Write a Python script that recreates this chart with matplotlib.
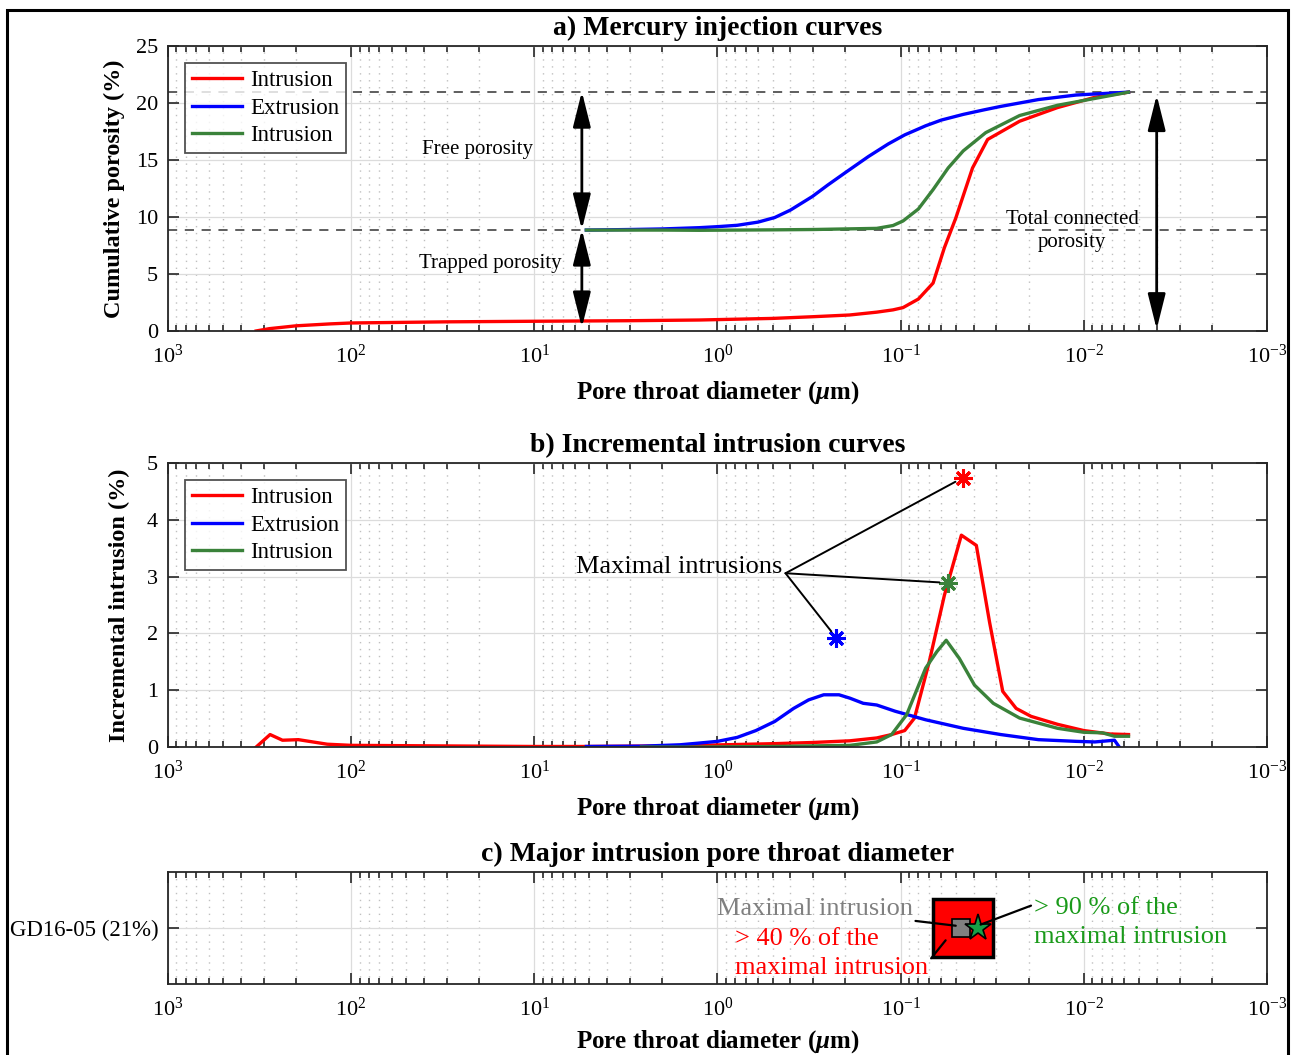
import matplotlib
matplotlib.use("Agg")
import matplotlib.pyplot as plt
from matplotlib.patches import Rectangle

plt.rcParams["font.family"] = ["Liberation Serif", "DejaVu Serif"]
plt.rcParams["mathtext.fontset"] = "custom"
plt.rcParams["mathtext.rm"] = "Liberation Serif"
plt.rcParams["mathtext.it"] = "Liberation Serif:italic"
plt.rcParams["mathtext.bf"] = "Liberation Serif:bold"
plt.rcParams["mathtext.bfit"] = "Liberation Serif:italic:bold"

# ---- data ----
# a) cumulative curves: pore throat diameter (um) and cumulative porosity (%)
cum_int_d = [330, 280, 200, 130, 100, 30, 10, 3, 1.26, 0.5, 0.3, 0.19, 0.135, 0.11,
             0.097, 0.080, 0.0665, 0.0577, 0.050, 0.0405, 0.0335, 0.0224, 0.0139,
             0.0087, 0.0057]
cum_int = [0, 0.2, 0.45, 0.62, 0.7, 0.8, 0.85, 0.9, 0.96, 1.1, 1.25, 1.4, 1.65, 1.85,
           2.05, 2.8, 4.2, 7.3, 9.9, 14.3, 16.8, 18.4, 19.6, 20.5, 20.95]
cum_ext_d = [5.2, 3, 2, 1.26, 1.0, 0.78, 0.6, 0.487, 0.4, 0.303, 0.25, 0.2, 0.15,
             0.117, 0.095, 0.073, 0.06, 0.0455, 0.035, 0.0284, 0.0177, 0.011, 0.0057]
cum_ext = [8.85, 8.9, 8.95, 9.06, 9.15, 9.27, 9.55, 9.95, 10.6, 11.8, 12.8, 13.9,
           15.3, 16.4, 17.2, 18.0, 18.5, 19.0, 19.4, 19.7, 20.3, 20.7, 20.95]
cum_reint_d = [5.2, 2, 1.26, 0.5, 0.3, 0.135, 0.11, 0.097, 0.080, 0.0665, 0.055,
               0.0455, 0.0343, 0.0224, 0.0139, 0.0087, 0.0057]
cum_reint = [8.85, 8.85, 8.83, 8.87, 8.9, 9.0, 9.25, 9.65, 10.7, 12.4, 14.3, 15.8,
             17.4, 18.9, 19.8, 20.4, 20.95]
total_porosity = 21.0
trapped_porosity = 8.9

# b) incremental curves
inc_int_d = [330, 277, 237, 194, 135, 100, 10, 5.3, 2, 1.26, 0.487, 0.303, 0.189,
             0.135, 0.112, 0.095, 0.084, 0.0698, 0.0577, 0.0466, 0.0386, 0.0327,
             0.0277, 0.0234, 0.0194, 0.0139, 0.01, 0.0072, 0.0057]
inc_int = [0, 0.22, 0.12, 0.13, 0.05, 0.03, 0.01, 0.01, 0.02, 0.03, 0.06, 0.08, 0.11,
           0.16, 0.22, 0.29, 0.51, 1.5, 2.67, 3.73, 3.55, 2.2, 0.98, 0.68, 0.54, 0.4,
           0.29, 0.23, 0.22]
inc_ext_d = [5.2, 2.6, 1.6, 1.26, 1.0, 0.78, 0.617, 0.487, 0.384, 0.318, 0.263, 0.217,
             0.189, 0.16, 0.135, 0.107, 0.073, 0.0455, 0.0284, 0.0177, 0.011, 0.0087,
             0.0068, 0.0064]
inc_ext = [0.01, 0.015, 0.04, 0.07, 0.1, 0.17, 0.29, 0.45, 0.68, 0.83, 0.92, 0.92,
           0.86, 0.77, 0.74, 0.63, 0.48, 0.33, 0.22, 0.13, 0.1, 0.09, 0.12, 0.0]
inc_reint_d = [2.6, 1.26, 0.5, 0.189, 0.135, 0.112, 0.0927, 0.073, 0.0634, 0.0564,
               0.0478, 0.0395, 0.0312, 0.0224, 0.0139, 0.01, 0.0079, 0.0068, 0.0057]
inc_reint = [0, 0.0, 0.01, 0.03, 0.09, 0.22, 0.57, 1.39, 1.68, 1.88, 1.56, 1.09, 0.77,
             0.51, 0.33, 0.26, 0.25, 0.19, 0.19]
max_d = [0.0458, 0.224, 0.0553]
max_val = [4.74, 1.92, 2.89]

# c) major intrusion range
sample_label = "GD16-05 (21%)"
range40 = [0.0314, 0.0668]
max_intrusion_d = 0.0466
range90_d = 0.038

series_labels = ["Intrusion", "Extrusion", "Intrusion"]
colors = ["#ff0000", "#0000ff", "#3a823a"]

# ---- figure ----
fig = plt.figure(figsize=(12.94, 10.55), dpi=100, facecolor="white")
fig.patches.append(Rectangle((0.0054, -0.01), 0.99, 1.0005, transform=fig.transFigure,
                             fill=False, edgecolor="black", linewidth=2.2))

ax_a = fig.add_axes([0.1298, 0.6863, 0.8493, 0.2701])
ax_b = fig.add_axes([0.1298, 0.2919, 0.8493, 0.2692])
ax_c = fig.add_axes([0.1298, 0.0673, 0.8493, 0.1062])

xlabel = r"Pore throat diameter ($\boldsymbol{\mu}$m)"


def StyleAxes(ax, title, labelpad=8):
    ax.set_xscale("log")
    ax.set_xlim(1e3, 1e-3)
    ax.set_xticks([1e3, 1e2, 1e1, 1e0, 1e-1, 1e-2, 1e-3])
    ax.grid(True, which="major", color="#dcdcdc", linewidth=0.9, linestyle="-")
    ax.grid(True, which="minor", axis="x", color="#c0c0c0", linewidth=1.0,
            linestyle=(0, (1, 4)))
    ax.set_axisbelow(True)
    ax.tick_params(which="both", direction="in", top=True, right=True,
                   labelsize=16, width=1.2, colors="#262626", labelcolor="black")
    ax.tick_params(which="major", length=8, pad=7)
    ax.tick_params(axis="x", which="major", pad=10)
    ax.tick_params(which="minor", length=4.5)
    for sp in ax.spines.values():
        sp.set_linewidth(1.3)
        sp.set_color("#262626")
    ax.set_xlabel(xlabel, fontsize=18, fontweight="bold", labelpad=labelpad)
    ax.set_title(title, fontsize=20, fontweight="bold", pad=8)


def AddLegend(ax):
    leg = ax.legend(loc="upper left", bbox_to_anchor=(0.0, 1.0), fontsize=16.5,
                    frameon=True, fancybox=False, edgecolor="#262626",
                    handlelength=2.2, handletextpad=0.35, labelspacing=0.28,
                    borderpad=0.3, borderaxespad=0.75)
    leg.get_frame().set_linewidth(1.3)


# a) Mercury injection curves
ax_a.plot(cum_int_d, cum_int, color=colors[0], lw=2.4, label=series_labels[0])
ax_a.plot(cum_ext_d, cum_ext, color=colors[1], lw=2.4, label=series_labels[1])
ax_a.plot(cum_reint_d, cum_reint, color=colors[2], lw=2.4, label=series_labels[2])
ax_a.axhline(total_porosity, color="#333333", lw=1.1, ls=(0, (6, 5)), zorder=1.5)
ax_a.axhline(trapped_porosity, color="#333333", lw=1.1, ls=(0, (6, 5)), zorder=1.5)
StyleAxes(ax_a, "a) Mercury injection curves")
ax_a.set_ylim(0, 25)
ax_a.set_yticks([0, 5, 10, 15, 20, 25])
ax_a.set_ylabel("Cumulative porosity (%)", fontsize=17.5, fontweight="bold", labelpad=8)

arrow = dict(arrowstyle="<|-|>,head_length=1.2,head_width=0.3", color="black",
             lw=2, mutation_scale=18, shrinkA=0, shrinkB=0)
ax_a.annotate("", xy=(5.5, total_porosity), xytext=(5.5, trapped_porosity),
              arrowprops=arrow)
ax_a.annotate("", xy=(5.5, trapped_porosity), xytext=(5.5, 0.3), arrowprops=arrow)
ax_a.annotate("", xy=(0.004, 20.7), xytext=(0.004, 0.15), arrowprops=arrow)
ax_a.text(20.5, 15.9, "Free porosity", fontsize=15, ha="center", va="center")
ax_a.text(17.4, 5.95, "Trapped porosity", fontsize=15, ha="center", va="center")
ax_a.text(0.0116, 8.8, "Total connected\nporosity", fontsize=15, ha="center",
          va="center", linespacing=1.3)
AddLegend(ax_a)

# b) Incremental intrusion curves
ax_b.plot(inc_int_d, inc_int, color=colors[0], lw=2.4, label=series_labels[0])
ax_b.plot(inc_ext_d, inc_ext, color=colors[1], lw=2.4, label=series_labels[1])
ax_b.plot(inc_reint_d, inc_reint, color=colors[2], lw=2.4, label=series_labels[2])
for d, v, c in zip(max_d, max_val, colors):
    ax_b.plot(d, v, marker=(8, 2, 0), color=c, ms=13, mew=2.2, ls="none")
StyleAxes(ax_b, "b) Incremental intrusion curves")
ax_b.set_ylim(0, 5)
ax_b.set_yticks([0, 1, 2, 3, 4, 5])
ax_b.set_ylabel("Incremental intrusion (%)", fontsize=17.5, fontweight="bold",
                labelpad=12)
ax_b.text(0.44, 3.17, "Maximal intrusions", fontsize=19, ha="right", va="center")
for d, v in zip(max_d, max_val):
    ax_b.annotate("", xy=(d, v), xytext=(0.425, 3.06),
                  arrowprops=dict(arrowstyle="-", color="black", lw=1.4,
                                  shrinkA=0, shrinkB=6))
AddLegend(ax_b)

# c) Major intrusion pore throat diameter
ax_c.barh(1, range40[1] - range40[0], left=range40[0], height=0.52,
          color="#ff0000", edgecolor="black", linewidth=2.5, zorder=3)
ax_c.plot(max_intrusion_d, 1, marker="s", ms=13, color="#808080", mec="black",
          mew=1.2, ls="none", zorder=4)
ax_c.plot(range90_d, 1, marker="*", ms=20, color="#17a047", mec="black", mew=1.2,
          ls="none", zorder=5)
StyleAxes(ax_c, "c) Major intrusion pore throat diameter", labelpad=5)
ax_c.set_ylim(0.5, 1.5)
ax_c.set_yticks([1])
ax_c.set_yticklabels([sample_label])
ax_c.tick_params(axis="y", labelsize=16.5)

line = dict(arrowstyle="-", color="black", lw=1.6, shrinkA=0, shrinkB=0)
ax_c.annotate("Maximal intrusion", xy=(0.05, 1.02), xytext=(0.0859, 1.17),
              fontsize=19, color="#808080", ha="right", va="center",
              arrowprops=line, zorder=6)
ax_c.annotate("> 40 % of the\nmaximal intrusion", xy=(0.0568, 0.89),
              xytext=(0.80, 0.77), textcoords="data", fontsize=19, color="#ff0000",
              ha="left", va="center", linespacing=1.4,
              arrowprops=dict(line, relpos=(0.97, 0.2)), zorder=6)
ax_c.annotate("> 90 % of the\nmaximal intrusion", xy=(0.0366, 1.03),
              xytext=(0.01875, 1.05), fontsize=19, color="#1a9a1a",
              ha="left", va="center", linespacing=1.4,
              arrowprops=dict(line, relpos=(0.0, 0.85)), zorder=6)

fig.savefig("out.png", dpi=100, facecolor="white")
